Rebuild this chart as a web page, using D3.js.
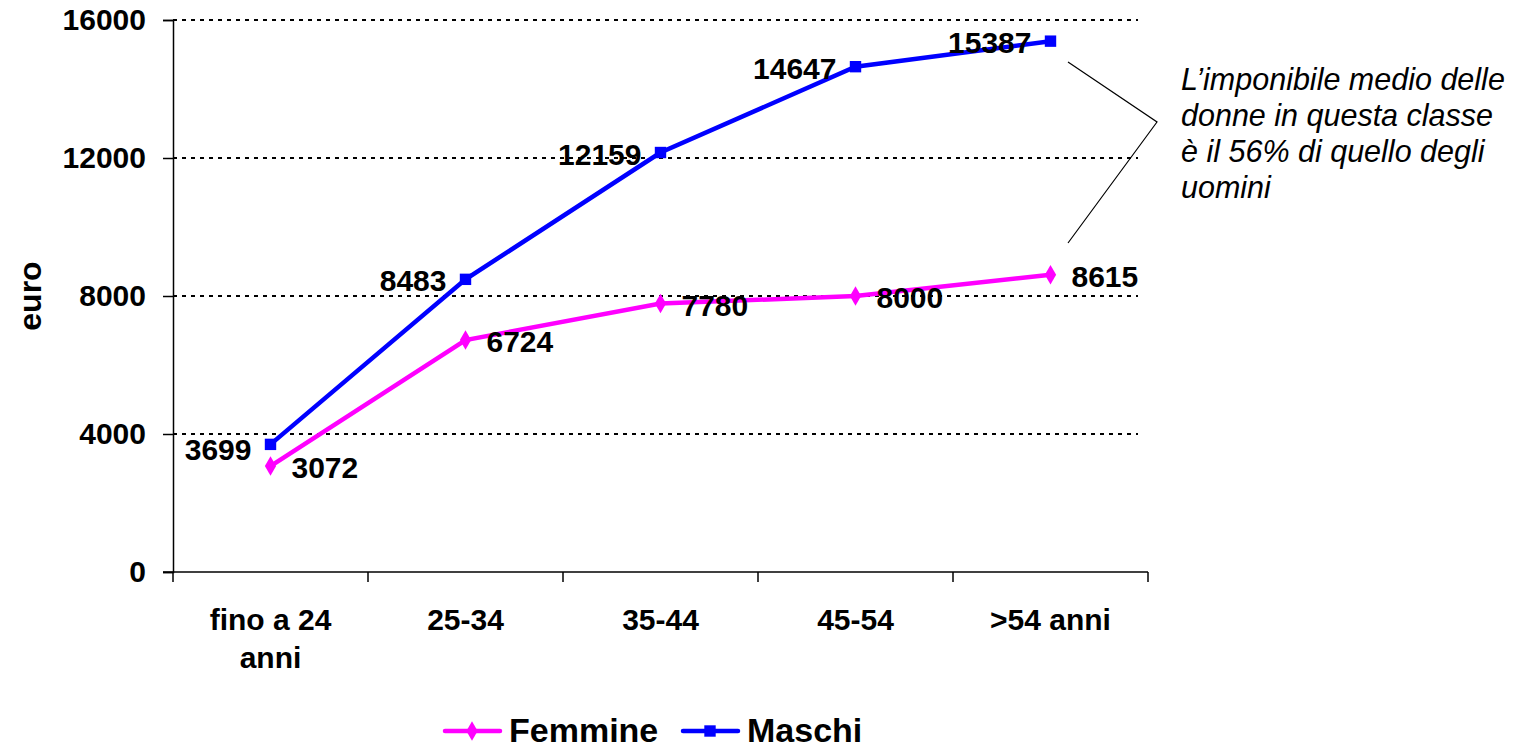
<!DOCTYPE html>
<html>
<head>
<meta charset="utf-8">
<script src="https://cdn.jsdelivr.net/npm/d3@7"></script>
<style>
  body { margin: 0; background: #fff; }
  svg { display: block; font-family: "Liberation Sans", Arial, sans-serif; }
</style>
</head>
<body>
<svg id="chart"></svg>
<script>
// data
const categories = ['fino a 24|anni', '25-34', '35-44', '45-54', '>54 anni'];
const femmine = [3072, 6724, 7780, 8000, 8615];
const maschi = [3699, 8483, 12159, 14647, 15387];
const yTicks = [0, 4000, 8000, 12000, 16000];
const noteLines = ['L\u2019imponibile medio delle', 'donne in questa classe', '\u00e8 il 56% di quello degli', 'uomini'];

const width = 1537, height = 749;
const margin = { top: 20, right: 389, bottom: 177, left: 173 };
const labelFont = 30;

const svg = d3.select('#chart').attr('width', width).attr('height', height);

const x = d3.scaleBand()
  .domain(categories)
  .range([margin.left, width - margin.right]);

const y = d3.scaleLinear()
  .domain([0, 16000])
  .range([height - margin.bottom, margin.top]);

// dashed gridlines
svg.append('g')
  .selectAll('line')
  .data(yTicks.filter(d => d > 0))
  .join('line')
  .attr('x1', margin.left)
  .attr('x2', width - margin.right - 10)
  .attr('y1', d => y(d))
  .attr('y2', d => y(d))
  .attr('stroke', '#000')
  .attr('stroke-width', 1.5)
  .attr('shape-rendering', 'crispEdges')
  .attr('stroke-dasharray', '4,5');

// y axis
const yAxis = svg.append('g')
  .attr('transform', `translate(${margin.left},0)`)
  .call(d3.axisLeft(y).tickValues(yTicks).tickSize(10).tickPadding(17).tickFormat(d3.format('d')));
yAxis.select('.domain').attr('stroke', '#000').attr('stroke-width', 1.5);
yAxis.selectAll('.tick line').attr('stroke', '#000').attr('stroke-width', 1.5);
yAxis.selectAll('.tick text')
  .attr('font-size', labelFont).attr('font-weight', 'bold').attr('fill', '#000')
  .attr('font-family', '"Liberation Sans", Arial, sans-serif');

// x axis, ticks between categories
const xAxisG = svg.append('g')
  .attr('transform', `translate(0,${height - margin.bottom})`);
xAxisG.append('line')
  .attr('x1', margin.left - 10).attr('x2', width - margin.right)
  .attr('stroke', '#000').attr('stroke-width', 1.5);
const bounds = categories.map(c => x(c)).concat([x(categories[categories.length - 1]) + x.bandwidth()]);
xAxisG.selectAll('.xt')
  .data(bounds)
  .join('line')
  .attr('x1', d => d).attr('x2', d => d)
  .attr('y1', 0).attr('y2', 10)
  .attr('stroke', '#000').attr('stroke-width', 1.5);
xAxisG.selectAll('.xl')
  .data(categories)
  .join('text')
  .attr('text-anchor', 'middle')
  .attr('font-size', labelFont).attr('font-weight', 'bold')
  .attr('transform', d => `translate(${x(d) + x.bandwidth() / 2},0)`)
  .selectAll('tspan')
  .data(d => d.split('|'))
  .join('tspan')
  .attr('x', 0)
  .attr('y', (d, i) => 58 + i * 38)
  .text(d => d);

// y title
svg.append('text')
  .attr('transform', `translate(41,${y(8000)}) rotate(-90)`)
  .attr('text-anchor', 'middle')
  .attr('font-size', 32).attr('font-weight', 'bold')
  .text('euro');

const cx = (d, i) => x(categories[i]) + x.bandwidth() / 2;
const line = d3.line().x((d, i) => cx(d, i)).y(d => y(d));

const diamond = d3.symbol().type(d3.symbolDiamond).size(110);
const square = d3.symbol().type(d3.symbolSquare).size(130);

// Femmine
svg.append('path').datum(femmine)
  .attr('fill', 'none').attr('stroke', '#ff00ff').attr('stroke-width', 4.5)
  .attr('d', line);
svg.append('g').selectAll('path').data(femmine).join('path')
  .attr('transform', (d, i) => `translate(${cx(d, i)},${y(d)})`)
  .attr('d', diamond).attr('fill', '#ff00ff');

// Maschi
svg.append('path').datum(maschi)
  .attr('fill', 'none').attr('stroke', '#0000ff').attr('stroke-width', 4.5)
  .attr('d', line);
svg.append('g').selectAll('path').data(maschi).join('path')
  .attr('transform', (d, i) => `translate(${cx(d, i)},${y(d)})`)
  .attr('d', square).attr('fill', '#0000ff');

// value labels
svg.append('g').selectAll('text').data(femmine).join('text')
  .attr('x', (d, i) => cx(d, i) + 21)
  .attr('y', d => y(d) + 12)
  .attr('font-size', labelFont).attr('font-weight', 'bold')
  .text(d => d);
svg.append('g').selectAll('text').data(maschi).join('text')
  .attr('x', (d, i) => cx(d, i) - 19)
  .attr('y', (d, i) => y(d) + (i === 0 ? 16 : 12))
  .attr('text-anchor', 'end')
  .attr('font-size', labelFont).attr('font-weight', 'bold')
  .text(d => d);

// annotation
svg.append('polyline')
  .attr('points', '1068,62 1157,122 1068,243')
  .attr('fill', 'none').attr('stroke', '#000').attr('stroke-width', 1.2);
svg.append('text')
  .attr('font-size', 30.5).attr('font-style', 'italic')
  .selectAll('tspan').data(noteLines).join('tspan')
  .attr('x', 1181)
  .attr('y', (d, i) => 90 + i * 36)
  .text(d => d);

// legend
const legend = svg.append('g').attr('transform', 'translate(0,731)');
const items = [
  { name: 'Femmine', color: '#ff00ff', sym: diamond, x: 445 },
  { name: 'Maschi', color: '#0000ff', sym: square, x: 683 }
];
items.forEach(it => {
  legend.append('line')
    .attr('x1', it.x).attr('x2', it.x + 55)
    .attr('stroke', it.color).attr('stroke-width', 4.5).attr('stroke-linecap', 'round');
  legend.append('path')
    .attr('transform', `translate(${it.x + 27},0)`)
    .attr('d', it.sym).attr('fill', it.color);
  legend.append('text')
    .attr('x', it.x + 64).attr('y', 11)
    .attr('font-size', 34).attr('font-weight', 'bold')
    .text(it.name);
});
</script>
</body>
</html>
